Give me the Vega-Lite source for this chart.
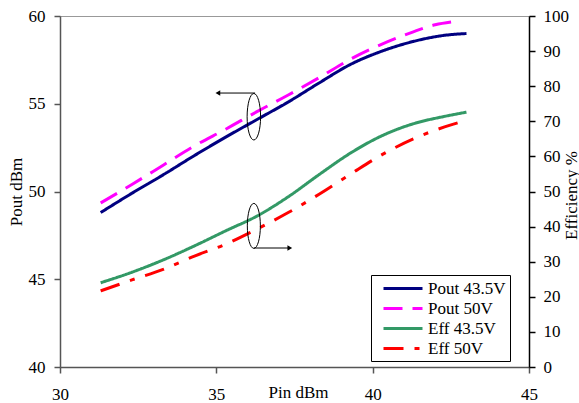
{
  "$schema": "https://vega.github.io/schema/vega-lite/v6.json",
  "width": 469,
  "height": 351,
  "autosize": {"type": "none"},
  "padding": {"left": 60, "top": 16, "right": 50, "bottom": 36},
  "config": {
    "font": "Liberation Serif",
    "view": {"stroke": "#999999", "strokeWidth": 1},
    "axis": {
      "grid": false,
      "labelFont": "Liberation Serif",
      "labelFontSize": 17,
      "labelColor": "black",
      "titleFont": "Liberation Serif",
      "titleFontSize": 17,
      "titleFontWeight": "normal",
      "titleColor": "black",
      "domainColor": "#555555",
      "tickColor": "#555555",
      "domainWidth": 1.5,
      "tickWidth": 1.5
    },
    "legend": {
      "labelFont": "Liberation Serif",
      "labelFontSize": 17,
      "labelColor": "black"
    }
  },
  "datasets": {
    "lines": [
      {"series": "Pout 43.5V", "axis": "pout", "pin": 31.3, "y": 48.8},
      {"series": "Pout 43.5V", "axis": "pout", "pin": 32.3, "y": 49.9},
      {"series": "Pout 43.5V", "axis": "pout", "pin": 33.3, "y": 50.95},
      {"series": "Pout 43.5V", "axis": "pout", "pin": 34.3, "y": 52.05},
      {"series": "Pout 43.5V", "axis": "pout", "pin": 35.3, "y": 53.1},
      {"series": "Pout 43.5V", "axis": "pout", "pin": 36.3, "y": 54.1},
      {"series": "Pout 43.5V", "axis": "pout", "pin": 37.3, "y": 55.1},
      {"series": "Pout 43.5V", "axis": "pout", "pin": 38.3, "y": 56.2},
      {"series": "Pout 43.5V", "axis": "pout", "pin": 39.3, "y": 57.25},
      {"series": "Pout 43.5V", "axis": "pout", "pin": 40.3, "y": 58.0},
      {"series": "Pout 43.5V", "axis": "pout", "pin": 41.3, "y": 58.55},
      {"series": "Pout 43.5V", "axis": "pout", "pin": 42.3, "y": 58.9},
      {"series": "Pout 43.5V", "axis": "pout", "pin": 43.0, "y": 59.0},
      {"series": "Pout 50V", "axis": "pout", "pin": 31.3, "y": 49.35},
      {"series": "Pout 50V", "axis": "pout", "pin": 32.3, "y": 50.4},
      {"series": "Pout 50V", "axis": "pout", "pin": 33.3, "y": 51.5},
      {"series": "Pout 50V", "axis": "pout", "pin": 34.3, "y": 52.6},
      {"series": "Pout 50V", "axis": "pout", "pin": 35.3, "y": 53.55},
      {"series": "Pout 50V", "axis": "pout", "pin": 36.3, "y": 54.55},
      {"series": "Pout 50V", "axis": "pout", "pin": 37.3, "y": 55.5},
      {"series": "Pout 50V", "axis": "pout", "pin": 38.3, "y": 56.5},
      {"series": "Pout 50V", "axis": "pout", "pin": 39.3, "y": 57.55},
      {"series": "Pout 50V", "axis": "pout", "pin": 40.3, "y": 58.4},
      {"series": "Pout 50V", "axis": "pout", "pin": 41.3, "y": 59.1},
      {"series": "Pout 50V", "axis": "pout", "pin": 42.0, "y": 59.5},
      {"series": "Pout 50V", "axis": "pout", "pin": 42.6, "y": 59.68},
      {"series": "Eff 43.5V", "axis": "eff", "pin": 31.3, "y": 24.0},
      {"series": "Eff 43.5V", "axis": "eff", "pin": 32.3, "y": 27.0},
      {"series": "Eff 43.5V", "axis": "eff", "pin": 33.3, "y": 30.5},
      {"series": "Eff 43.5V", "axis": "eff", "pin": 34.3, "y": 34.5},
      {"series": "Eff 43.5V", "axis": "eff", "pin": 35.3, "y": 38.8},
      {"series": "Eff 43.5V", "axis": "eff", "pin": 36.3, "y": 43.0},
      {"series": "Eff 43.5V", "axis": "eff", "pin": 37.3, "y": 48.5},
      {"series": "Eff 43.5V", "axis": "eff", "pin": 38.3, "y": 54.9},
      {"series": "Eff 43.5V", "axis": "eff", "pin": 39.3, "y": 61.0},
      {"series": "Eff 43.5V", "axis": "eff", "pin": 40.3, "y": 65.9},
      {"series": "Eff 43.5V", "axis": "eff", "pin": 41.3, "y": 69.3},
      {"series": "Eff 43.5V", "axis": "eff", "pin": 42.3, "y": 71.4},
      {"series": "Eff 43.5V", "axis": "eff", "pin": 43.0, "y": 72.6},
      {"series": "Eff 50V", "axis": "eff", "pin": 31.3, "y": 21.7},
      {"series": "Eff 50V", "axis": "eff", "pin": 32.3, "y": 24.8},
      {"series": "Eff 50V", "axis": "eff", "pin": 33.3, "y": 27.8},
      {"series": "Eff 50V", "axis": "eff", "pin": 34.3, "y": 31.6},
      {"series": "Eff 50V", "axis": "eff", "pin": 35.3, "y": 35.0},
      {"series": "Eff 50V", "axis": "eff", "pin": 36.3, "y": 39.3},
      {"series": "Eff 50V", "axis": "eff", "pin": 37.3, "y": 44.0},
      {"series": "Eff 50V", "axis": "eff", "pin": 38.3, "y": 49.3},
      {"series": "Eff 50V", "axis": "eff", "pin": 39.3, "y": 55.0},
      {"series": "Eff 50V", "axis": "eff", "pin": 40.3, "y": 60.5},
      {"series": "Eff 50V", "axis": "eff", "pin": 41.3, "y": 65.0},
      {"series": "Eff 50V", "axis": "eff", "pin": 42.3, "y": 68.4},
      {"series": "Eff 50V", "axis": "eff", "pin": 43.0, "y": 70.3}
    ],
    "ann": [
      {"group": "pout", "kind": "ellipse", "pin": 36.2, "y": 54.26},
      {"group": "pout", "kind": "arrow", "pin": 36.24, "pin2": 35.05, "y": 55.61},
      {"group": "eff", "kind": "ellipse", "pin": 36.2, "y": 40.2},
      {"group": "eff", "kind": "arrow", "pin": 36.2, "pin2": 37.35, "y": 33.9}
    ]
  },
  "layer": [
    {
      "encoding": {
        "x": {
          "field": "pin", "type": "quantitative",
          "scale": {"domain": [30, 45], "nice": false, "zero": false},
          "axis": {
            "title": "Pin dBm", "values": [30, 35, 40, 45], "tickSize": 6,
            "labelPadding": 13, "labelFlush": false,
            "labelFont": "Liberation Serif", "labelFontSize": 17,
            "titleFont": "Liberation Serif", "titleFontSize": 17, "titleFontWeight": "normal",
            "titleX": 238, "titleY": 30, "titleBaseline": "alphabetic"
          }
        },
        "y": {
          "field": "y", "type": "quantitative",
          "scale": {"domain": [40, 60], "nice": false, "zero": false},
          "axis": {
            "title": "Pout dBm", "orient": "left", "values": [40, 45, 50, 55, 60],
            "tickSize": 6, "labelPadding": 9,
            "labelFont": "Liberation Serif", "labelFontSize": 17,
            "titleFont": "Liberation Serif", "titleFontSize": 17, "titleFontWeight": "normal",
            "titleX": -44, "titleY": 175.5, "titleAngle": 270,
            "titleAlign": "center", "titleBaseline": "middle"
          }
        }
      },
      "layer": [
        {
          "data": {"name": "lines"},
          "transform": [{"filter": "datum.axis === 'pout'"}],
          "mark": {"type": "line", "strokeWidth": 3, "interpolate": "monotone"},
          "encoding": {
            "color": {
              "field": "series", "type": "nominal",
              "scale": {
                "domain": ["Pout 43.5V", "Pout 50V", "Eff 43.5V", "Eff 50V"],
                "range": ["#000080", "#FF00FF", "#339966", "#FF0000"]
              },
              "legend": {
                "title": null, "orient": "none", "legendX": 311, "legendY": 259,
                "strokeColor": "black", "fillColor": "white", "padding": 4,
                "symbolType": "M-0.125,0H4.75", "symbolSize": 256, "symbolStrokeWidth": 3,
                "rowPadding": 2, "labelOffset": 34,
                "labelFont": "Liberation Serif", "labelFontSize": 17, "labelColor": "black"
              }
            },
            "strokeDash": {
              "field": "series", "type": "nominal",
              "scale": {
                "domain": ["Pout 43.5V", "Pout 50V", "Eff 43.5V", "Eff 50V"],
                "range": [[1, 0], [19, 10], [1, 0], [20, 11, 5, 11]]
              },
              "legend": {
                "title": null, "orient": "none", "legendX": 311, "legendY": 259,
                "strokeColor": "black", "fillColor": "white", "padding": 4,
                "symbolType": "M-0.125,0H4.75", "symbolSize": 256, "symbolStrokeWidth": 3,
                "rowPadding": 2, "labelOffset": 34,
                "labelFont": "Liberation Serif", "labelFontSize": 17, "labelColor": "black"
              }
            }
          }
        },
        {
          "data": {"name": "ann"},
          "transform": [{"filter": "datum.group === 'pout' && datum.kind === 'ellipse'"}],
          "mark": {
            "type": "point", "filled": false, "color": "black", "strokeWidth": 1, "opacity": 1,
            "size": 2160,
            "shape": "M0,-1C0.16,-1,0.29,-0.552,0.29,0C0.29,0.552,0.16,1,0,1C-0.16,1,-0.29,0.552,-0.29,0C-0.29,-0.552,-0.16,-1,0,-1Z"
          }
        },
        {
          "data": {"name": "ann"},
          "transform": [{"filter": "datum.group === 'pout' && datum.kind === 'arrow'"}],
          "mark": {"type": "rule", "color": "black", "strokeWidth": 1},
          "encoding": {"x2": {"field": "pin2"}}
        },
        {
          "data": {"name": "ann"},
          "transform": [{"filter": "datum.group === 'pout' && datum.kind === 'arrow'"}],
          "mark": {"type": "point", "shape": "triangle-left", "filled": true, "color": "black", "size": 30, "opacity": 1},
          "encoding": {"x": {"field": "pin2", "type": "quantitative"}}
        }
      ]
    },
    {
      "encoding": {
        "x": {
          "field": "pin", "type": "quantitative",
          "scale": {"domain": [30, 45], "nice": false, "zero": false},
          "axis": {
            "title": "Pin dBm", "values": [30, 35, 40, 45], "tickSize": 6,
            "labelPadding": 13, "labelFlush": false,
            "labelFont": "Liberation Serif", "labelFontSize": 17,
            "titleFont": "Liberation Serif", "titleFontSize": 17, "titleFontWeight": "normal",
            "titleX": 238, "titleY": 30, "titleBaseline": "alphabetic"
          }
        },
        "y": {
          "field": "y", "type": "quantitative",
          "scale": {"domain": [0, 100], "nice": false},
          "axis": {
            "title": "Efficiency %", "orient": "right",
            "values": [0, 10, 20, 30, 40, 50, 60, 70, 80, 90, 100],
            "tickSize": 6, "labelPadding": 8,
            "labelFont": "Liberation Serif", "labelFontSize": 17,
            "titleFont": "Liberation Serif", "titleFontSize": 17, "titleFontWeight": "normal",
            "domainColor": "black", "tickColor": "black",
            "titleX": 42, "titleY": 179, "titleAngle": 270,
            "titleAlign": "center", "titleBaseline": "middle"
          }
        }
      },
      "layer": [
        {
          "data": {"name": "lines"},
          "transform": [{"filter": "datum.axis === 'eff'"}],
          "mark": {"type": "line", "strokeWidth": 3, "interpolate": "monotone"},
          "encoding": {
            "color": {"field": "series", "type": "nominal"},
            "strokeDash": {"field": "series", "type": "nominal"}
          }
        },
        {
          "data": {"name": "ann"},
          "transform": [{"filter": "datum.group === 'eff' && datum.kind === 'ellipse'"}],
          "mark": {
            "type": "point", "filled": false, "color": "black", "strokeWidth": 1, "opacity": 1,
            "size": 2025,
            "shape": "M0,-1C0.16,-1,0.29,-0.552,0.29,0C0.29,0.552,0.16,1,0,1C-0.16,1,-0.29,0.552,-0.29,0C-0.29,-0.552,-0.16,-1,0,-1Z"
          }
        },
        {
          "data": {"name": "ann"},
          "transform": [{"filter": "datum.group === 'eff' && datum.kind === 'arrow'"}],
          "mark": {"type": "rule", "color": "black", "strokeWidth": 1},
          "encoding": {"x2": {"field": "pin2"}}
        },
        {
          "data": {"name": "ann"},
          "transform": [{"filter": "datum.group === 'eff' && datum.kind === 'arrow'"}],
          "mark": {"type": "point", "shape": "triangle-right", "filled": true, "color": "black", "size": 30, "opacity": 1},
          "encoding": {"x": {"field": "pin2", "type": "quantitative"}}
        }
      ]
    }
  ],
  "resolve": {"scale": {"y": "independent"}}
}
